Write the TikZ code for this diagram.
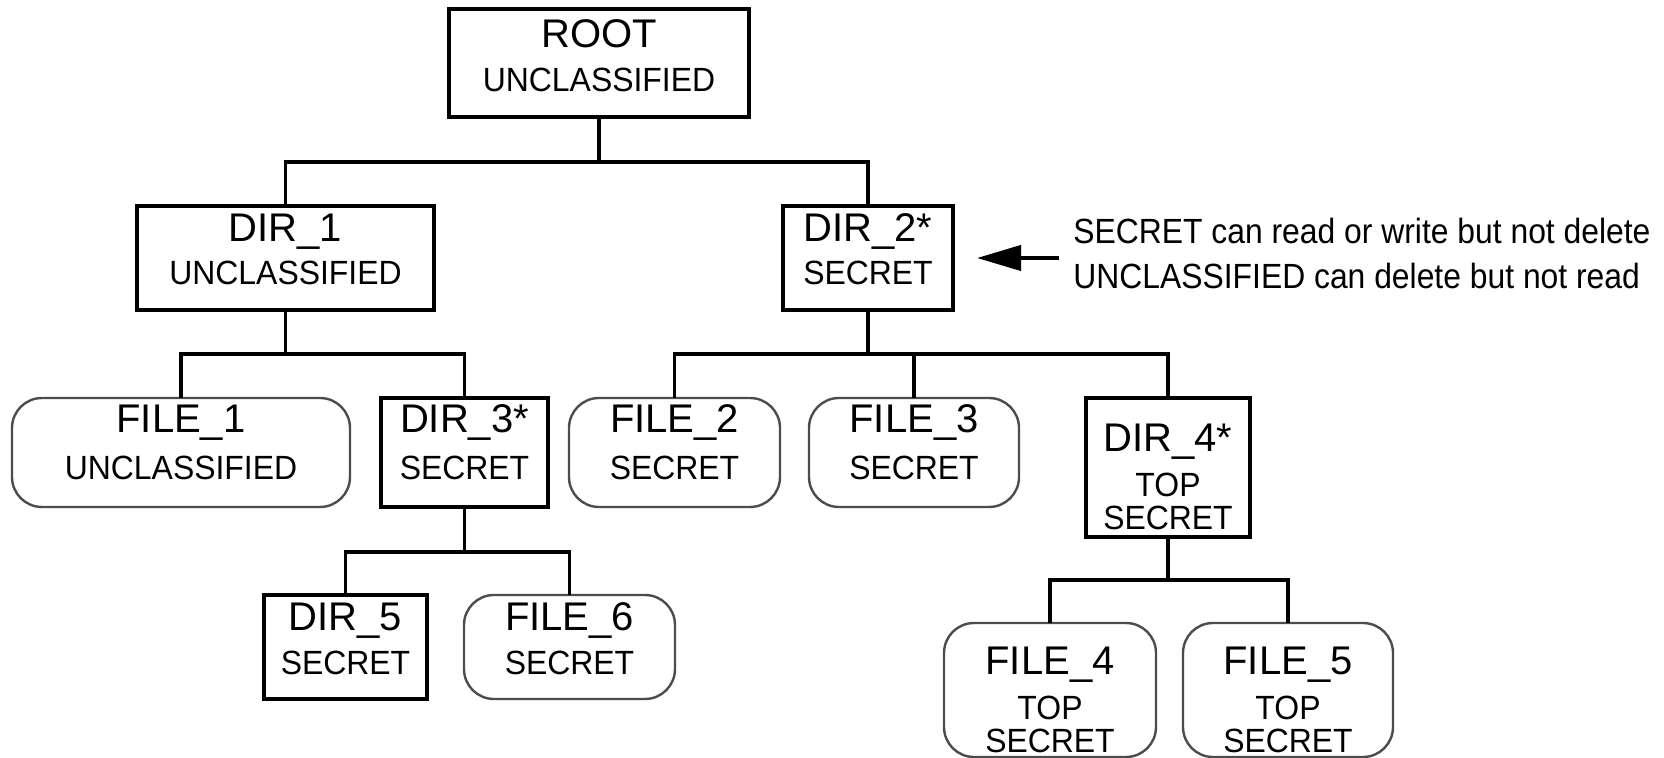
\documentclass[tikz,border=0pt]{standalone}
\usepackage{fontspec}
\setmainfont{Liberation Sans}
\newfontfamily\namefnt{Liberation Sans}
\newfontfamily\classfnt[FakeStretch=0.95]{Liberation Sans}
\newfontfamily\notefnt[FakeStretch=0.91]{Liberation Sans}
\usetikzlibrary{arrows.meta}

\newcommand{\lwd}{1.6pt}   % line width of links and dir boxes

\tikzset{
  dirbox/.style={draw, line width=\lwd, inner sep=0pt, outer sep=0pt},
  filebox/.style={draw=black!70, line width=1.2pt, rounded corners=15pt, inner sep=0pt, outer sep=0pt},
  namelbl/.style={anchor=base, inner sep=0pt, font=\namefnt\fontsize{20pt}{24pt}\selectfont},
  classlbl/.style={anchor=base, inner sep=0pt, font=\classfnt\fontsize{16.8pt}{20pt}\selectfont},
  notelbl/.style={anchor=base west, inner sep=0pt, font=\notefnt\fontsize{17.5pt}{21pt}\selectfont},
  link/.style={line width=\lwd},
}

\begin{document}
\begin{tikzpicture}[x=0.5pt,y=-0.5pt]
  \useasboundingbox (0,0) rectangle (1664,758);
%
  % boxes
  \node[dirbox, minimum width=150pt, minimum height=54pt] (root) at (599,63) {};
  \node[dirbox, minimum width=148.5pt, minimum height=52pt] (dir1) at (285.5,258) {};
  \node[dirbox, minimum width=85pt, minimum height=52pt] (dir2) at (868,258) {};
  \node[filebox, minimum width=169pt, minimum height=54.5pt] (file1) at (181,452.5) {};
  \node[dirbox, minimum width=83.5pt, minimum height=54.5pt] (dir3) at (464.5,452.5) {};
  \node[filebox, minimum width=105.5pt, minimum height=54.5pt] (file2) at (674.5,452.5) {};
  \node[filebox, minimum width=105pt, minimum height=54.5pt] (file3) at (914,452.5) {};
  \node[dirbox, minimum width=82pt, minimum height=69.5pt] (dir4) at (1168,467.5) {};
  \node[dirbox, minimum width=81.5pt, minimum height=52pt] (dir5) at (345.5,647) {};
  \node[filebox, minimum width=105.5pt, minimum height=52pt] (file6) at (569.5,647) {};
  \node[filebox, minimum width=106pt, minimum height=67pt] (file4) at (1050,690) {};
  \node[filebox, minimum width=105pt, minimum height=67pt] (file5) at (1288,690) {};
%
  % labels
  \node[namelbl] (rootname) at (599,48) {ROOT};
  \node[classlbl] (rootclass) at (599,92) {UNCLASSIFIED};
  \node[namelbl] (dir1name) at (285.5,242) {DIR\_1};
  \node[classlbl] (dir1class) at (285.5,285) {UNCLASSIFIED};
  \node[namelbl] (dir2name) at (868,242) {DIR\_2*};
  \node[classlbl] (dir2class) at (868,285) {SECRET};
  \node[namelbl] (file1name) at (181,433) {FILE\_1};
  \node[classlbl] (file1class) at (181,480) {UNCLASSIFIED};
  \node[namelbl] (dir3name) at (464.5,433) {DIR\_3*};
  \node[classlbl] (dir3class) at (464.5,480) {SECRET};
  \node[namelbl] (file2name) at (674.5,433) {FILE\_2};
  \node[classlbl] (file2class) at (674.5,480) {SECRET};
  \node[namelbl] (file3name) at (914,433) {FILE\_3};
  \node[classlbl] (file3class) at (914,480) {SECRET};
  \node[namelbl] (dir4name) at (1168,452) {DIR\_4*};
  \node[classlbl] (dir4top) at (1168,497) {TOP};
  \node[classlbl] (dir4class) at (1168,530) {SECRET};
  \node[namelbl] (dir5name) at (345.5,630) {DIR\_5};
  \node[classlbl] (dir5class) at (345.5,674) {SECRET};
  \node[namelbl] (file6name) at (569.5,630) {FILE\_6};
  \node[classlbl] (file6class) at (569.5,674) {SECRET};
  \node[namelbl] (file4name) at (1050,674) {FILE\_4};
  \node[classlbl] (file4top) at (1050,719) {TOP};
  \node[classlbl] (file4class) at (1050,752) {SECRET};
  \node[namelbl] (file5name) at (1288,674) {FILE\_5};
  \node[classlbl] (file5top) at (1288,719) {TOP};
  \node[classlbl] (file5class) at (1288,752) {SECRET};
%
  % note on DIR_2
  \node[notelbl] (note1) at (1073,244) {SECRET can read or write but not delete};
  \node[notelbl] (note2) at (1073,289) {UNCLASSIFIED can delete but not read};
  \coordinate (arrtail) at (1059,258);
  \draw[line width=2pt, -{Triangle[length=22pt,width=12.5pt]}, shorten >=12pt] (arrtail) -- (dir2.east);
%
  % links
  \coordinate (rootj) at (599,162);
  \draw[link] (root.south) -- (rootj) -| (dir1.north);
  \draw[link] (rootj) -| (dir2.north);
  \coordinate (dir1j) at (285.5,354);
  \draw[link] (dir1.south) -- (dir1j) -| (file1.north);
  \draw[link] (dir1j) -| (dir3.north);
  \coordinate (dir2j) at (868,354);
  \draw[link] (dir2.south) -- (dir2j) -| (file2.north);
  \draw[link] (dir2j) -| (file3.north);
  \draw[link] (dir2j) -| (dir4.north);
  \coordinate (dir3j) at (464.5,552);
  \draw[link] (dir3.south) -- (dir3j) -| (dir5.north);
  \draw[link] (dir3j) -| (file6.north);
  \coordinate (dir4j) at (1168,580);
  \draw[link] (dir4.south) -- (dir4j) -| (file4.north);
  \draw[link] (dir4j) -| (file5.north);
\end{tikzpicture}
\end{document}
